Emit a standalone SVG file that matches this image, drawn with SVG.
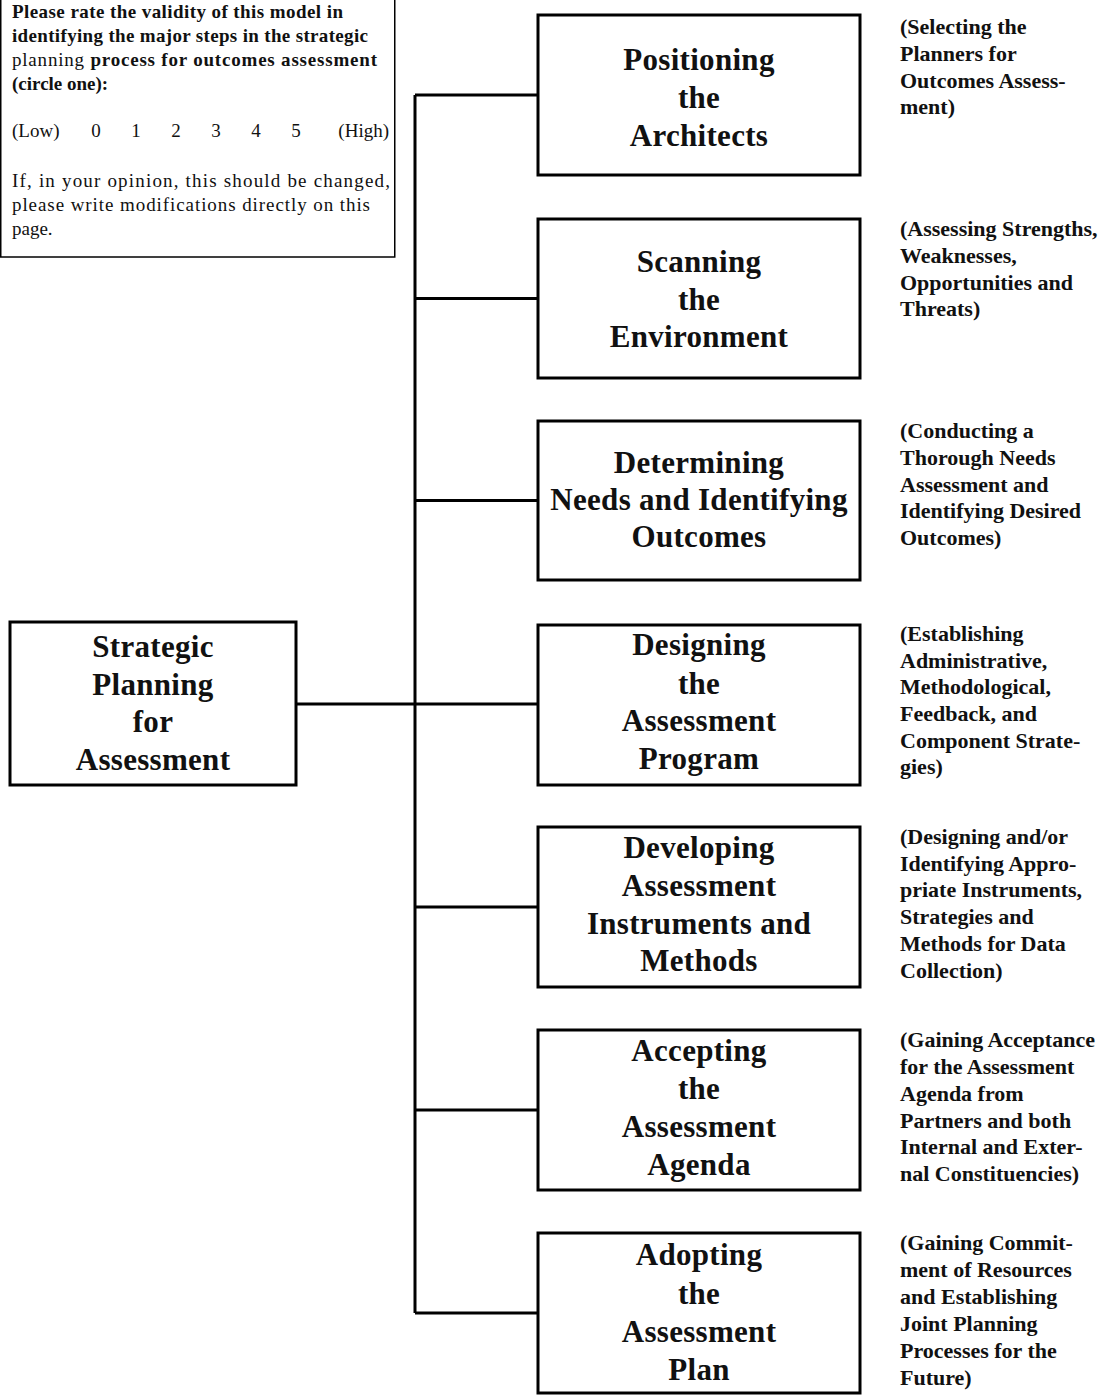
<svg xmlns="http://www.w3.org/2000/svg" width="1116" height="1400" viewBox="0 0 1116 1400">
<style>
.box{fill:#fff;stroke:#000;stroke-width:3}
.note{fill:#fff;stroke:#000;stroke-width:1.5}
.bt{font-family:"Liberation Serif","Times New Roman",serif;font-size:31px;font-weight:bold;text-anchor:middle;fill:#111;letter-spacing:0.3px}
.rt{font-family:"Liberation Serif","Times New Roman",serif;font-size:22px;font-weight:bold;fill:#111}
.nt{font-family:"Liberation Serif","Times New Roman",serif;font-size:19px;fill:#111}
.b{font-weight:bold}
.con{stroke:#000;stroke-width:3;fill:none}
</style>
<rect width="1116" height="1400" fill="#fff"/>
<g id="note">
<rect class="note" x="0.75" y="-2" width="394" height="259"/>
<text class="nt b" x="12" y="18" textLength="331" lengthAdjust="spacing">Please rate the validity of this model in</text>
<text class="nt b" x="12" y="42" textLength="356" lengthAdjust="spacing">identifying the major steps in the strategic</text>
<text class="nt" x="12" y="66" textLength="365" lengthAdjust="spacing">planning  <tspan class="b">process for outcomes assessment</tspan></text>
<text class="nt b" x="12" y="90">(circle one):</text>
<text class="nt" x="12" y="137">(Low)</text>
<text class="nt" x="96" y="137" text-anchor="middle">0</text>
<text class="nt" x="136" y="137" text-anchor="middle">1</text>
<text class="nt" x="176" y="137" text-anchor="middle">2</text>
<text class="nt" x="216" y="137" text-anchor="middle">3</text>
<text class="nt" x="256" y="137" text-anchor="middle">4</text>
<text class="nt" x="296" y="137" text-anchor="middle">5</text>
<text class="nt" x="389" y="137" text-anchor="end">(High)</text>
<text class="nt" x="12" y="187" textLength="378" lengthAdjust="spacing">If, in your opinion, this should be changed,</text>
<text class="nt" x="12" y="211" textLength="358" lengthAdjust="spacing">please write modifications directly on this</text>
<text class="nt" x="12" y="235">page.</text>
</g>
<g id="connectors">
<line class="con" x1="415" y1="95" x2="415" y2="1313"/>
<line class="con" x1="296" y1="704" x2="538" y2="704"/>
<line class="con" x1="415" y1="95" x2="538" y2="95"/>
<line class="con" x1="415" y1="298.5" x2="538" y2="298.5"/>
<line class="con" x1="415" y1="500.5" x2="538" y2="500.5"/>
<line class="con" x1="415" y1="907" x2="538" y2="907"/>
<line class="con" x1="415" y1="1110" x2="538" y2="1110"/>
<line class="con" x1="415" y1="1313" x2="538" y2="1313"/>
</g>
<g id="root">
<rect class="box" x="10" y="622" width="286" height="163"/>
<text class="bt" x="153" y="657">Strategic</text>
<text class="bt" x="153" y="695">Planning</text>
<text class="bt" x="153" y="732">for</text>
<text class="bt" x="153" y="770">Assessment</text>
</g>
<g id="n1">
<rect class="box" x="538" y="15" width="322" height="160"/>
<text class="bt" x="699" y="70">Positioning</text>
<text class="bt" x="699" y="108">the</text>
<text class="bt" x="699" y="146">Architects</text>
</g>
<g id="n2">
<rect class="box" x="538" y="219" width="322" height="159"/>
<text class="bt" x="699" y="272">Scanning</text>
<text class="bt" x="699" y="310">the</text>
<text class="bt" x="699" y="347">Environment</text>
</g>
<g id="n3">
<rect class="box" x="538" y="421" width="322" height="159"/>
<text class="bt" x="699" y="473">Determining</text>
<text class="bt" x="699" y="510">Needs and Identifying</text>
<text class="bt" x="699" y="547">Outcomes</text>
</g>
<g id="n4">
<rect class="box" x="538" y="625" width="322" height="160"/>
<text class="bt" x="699" y="655">Designing</text>
<text class="bt" x="699" y="694">the</text>
<text class="bt" x="699" y="731">Assessment</text>
<text class="bt" x="699" y="769">Program</text>
</g>
<g id="n5">
<rect class="box" x="538" y="827" width="322" height="160"/>
<text class="bt" x="699" y="858">Developing</text>
<text class="bt" x="699" y="896">Assessment</text>
<text class="bt" x="699" y="934">Instruments and</text>
<text class="bt" x="699" y="971">Methods</text>
</g>
<g id="n6">
<rect class="box" x="538" y="1030" width="322" height="160"/>
<text class="bt" x="699" y="1061">Accepting</text>
<text class="bt" x="699" y="1099">the</text>
<text class="bt" x="699" y="1137">Assessment</text>
<text class="bt" x="699" y="1175">Agenda</text>
</g>
<g id="n7">
<rect class="box" x="538" y="1233" width="322" height="160"/>
<text class="bt" x="699" y="1265">Adopting</text>
<text class="bt" x="699" y="1304">the</text>
<text class="bt" x="699" y="1342">Assessment</text>
<text class="bt" x="699" y="1380">Plan</text>
</g>
<g id="d1">
<text class="rt" x="900" y="34">(Selecting the</text>
<text class="rt" x="900" y="61">Planners for</text>
<text class="rt" x="900" y="88">Outcomes Assess-</text>
<text class="rt" x="900" y="114">ment)</text>
</g>
<g id="d2">
<text class="rt" x="900" y="236">(Assessing Strengths,</text>
<text class="rt" x="900" y="263">Weaknesses,</text>
<text class="rt" x="900" y="290">Opportunities and</text>
<text class="rt" x="900" y="316">Threats)</text>
</g>
<g id="d3">
<text class="rt" x="900" y="438">(Conducting a</text>
<text class="rt" x="900" y="465">Thorough Needs</text>
<text class="rt" x="900" y="492">Assessment and</text>
<text class="rt" x="900" y="518">Identifying Desired</text>
<text class="rt" x="900" y="545">Outcomes)</text>
</g>
<g id="d4">
<text class="rt" x="900" y="641">(Establishing</text>
<text class="rt" x="900" y="668">Administrative,</text>
<text class="rt" x="900" y="694">Methodological,</text>
<text class="rt" x="900" y="721">Feedback, and</text>
<text class="rt" x="900" y="748">Component Strate-</text>
<text class="rt" x="900" y="774">gies)</text>
</g>
<g id="d5">
<text class="rt" x="900" y="844">(Designing and/or</text>
<text class="rt" x="900" y="871">Identifying Appro-</text>
<text class="rt" x="900" y="897">priate Instruments,</text>
<text class="rt" x="900" y="924">Strategies and</text>
<text class="rt" x="900" y="951">Methods for Data</text>
<text class="rt" x="900" y="978">Collection)</text>
</g>
<g id="d6">
<text class="rt" x="900" y="1047">(Gaining Acceptance</text>
<text class="rt" x="900" y="1074">for the Assessment</text>
<text class="rt" x="900" y="1101">Agenda from</text>
<text class="rt" x="900" y="1128">Partners and both</text>
<text class="rt" x="900" y="1154">Internal and Exter-</text>
<text class="rt" x="900" y="1181">nal Constituencies)</text>
</g>
<g id="d7">
<text class="rt" x="900" y="1250">(Gaining Commit-</text>
<text class="rt" x="900" y="1277">ment of Resources</text>
<text class="rt" x="900" y="1304">and Establishing</text>
<text class="rt" x="900" y="1331">Joint Planning</text>
<text class="rt" x="900" y="1358">Processes for the</text>
<text class="rt" x="900" y="1385">Future)</text>
</g>
</svg>
